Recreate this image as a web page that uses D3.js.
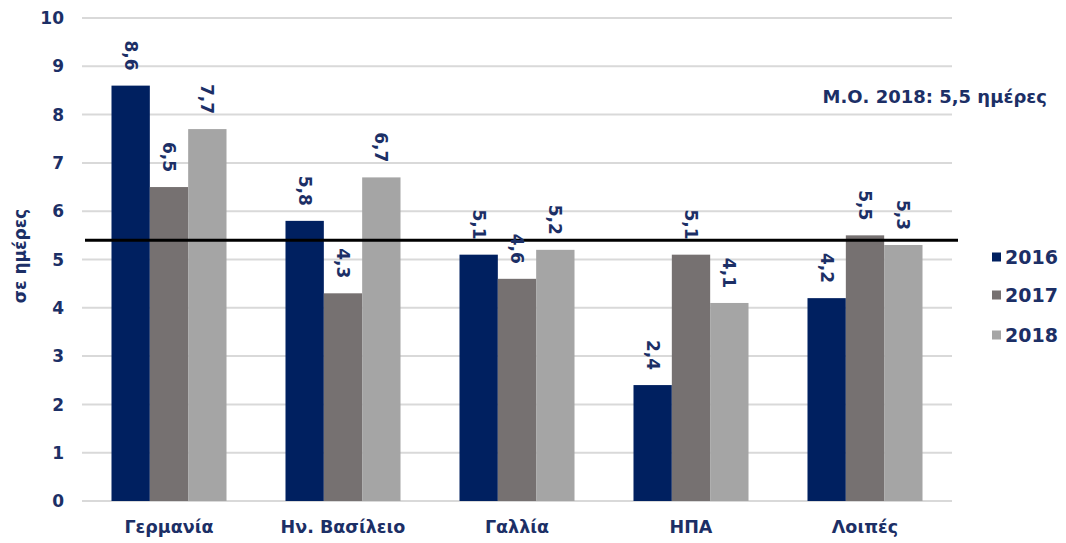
<!DOCTYPE html>
<html>
<head>
<meta charset="utf-8">
<script src="https://cdn.jsdelivr.net/npm/d3@7"></script>
<style>
  html, body { margin: 0; padding: 0; background: #ffffff; }
  svg { display: block; }
</style>
</head>
<body>
<svg id="chart" width="1066" height="543"></svg>
<script>
// ---- data ----
const categories = ["Γερμανία", "Ην. Βασίλειο", "Γαλλία", "ΗΠΑ", "Λοιπές"];
const seriesNames = ["2016", "2017", "2018"];
const values2016 = [8.6, 5.8, 5.1, 2.4, 4.2];
const values2017 = [6.5, 4.3, 4.6, 5.1, 5.5];
const values2018 = [7.7, 6.7, 5.2, 4.1, 5.3];
const yTicks = [0, 1, 2, 3, 4, 5, 6, 7, 8, 9, 10];
const avgLineValue = 5.4;
const avgLabel = "Μ.Ο. 2018: 5,5 ημέρες";
const yTitle = "σε ημέρες";

const seriesValues = [values2016, values2017, values2018];
const colors = ["#002060", "#767171", "#a5a5a5"];
const textColor = "#1c2f66";

const svg = d3.select("#chart");
const font = "'DejaVu Sans', Verdana, sans-serif";

const y = d3.scaleLinear().domain([0, 10]).range([501, 18]);
const x0 = d3.scaleBand().domain(categories).range([82, 952])
  .paddingInner(0.339).paddingOuter(0.1695);
const x1 = d3.scaleBand().domain(seriesNames).range([0, x0.bandwidth()]);

// gridlines
svg.append("g").selectAll("line").data(yTicks).join("line")
  .attr("x1", 82).attr("x2", 952)
  .attr("y1", d => y(d)).attr("y2", d => y(d))
  .attr("stroke", "#d9d9d9").attr("stroke-width", 2);

// y tick labels
svg.append("g").selectAll("text").data(yTicks).join("text")
  .attr("x", 64).attr("y", d => y(d))
  .attr("dy", "0.36em")
  .attr("text-anchor", "end")
  .attr("font-family", font).attr("font-weight", "bold").attr("font-size", 17)
  .attr("fill", textColor)
  .text(d => d);

// y title
svg.append("text")
  .attr("transform", `translate(20,256) rotate(-90)`)
  .attr("dy", "0.35em")
  .attr("text-anchor", "middle")
  .attr("font-family", font).attr("font-weight", "bold").attr("font-size", 17)
  .attr("fill", textColor)
  .text(yTitle);

// bars
const rows = [];
categories.forEach((c, i) => {
  seriesNames.forEach((s, j) => rows.push({ cat: c, s, j, v: seriesValues[j][i] }));
});

svg.append("g").selectAll("rect").data(rows).join("rect")
  .attr("x", d => x0(d.cat) + x1(d.s))
  .attr("y", d => y(d.v))
  .attr("width", x1.bandwidth())
  .attr("height", d => y(0) - y(d.v))
  .attr("fill", d => colors[d.j]);

// average line
svg.append("line")
  .attr("x1", 85).attr("x2", 958)
  .attr("y1", y(avgLineValue)).attr("y2", y(avgLineValue))
  .attr("stroke", "#000").attr("stroke-width", 3);

// bar labels (rotated)
svg.append("g").selectAll("text").data(rows).join("text")
  .attr("transform", d => `translate(${x0(d.cat) + x1(d.s) + x1.bandwidth() / 2},${y(d.v) - 15}) rotate(90)`)
  .attr("dy", "0.36em")
  .attr("text-anchor", "end")
  .attr("font-family", font).attr("font-weight", "bold").attr("font-size", 17)
  .attr("fill", textColor)
  .text(d => d.v.toFixed(1).replace(".", ","));

// category labels
svg.append("g").selectAll("text").data(categories).join("text")
  .attr("x", d => x0(d) + x0.bandwidth() / 2)
  .attr("y", 527)
  .attr("dy", "0.36em")
  .attr("text-anchor", "middle")
  .attr("font-family", font).attr("font-weight", "bold").attr("font-size", 17.5)
  .attr("fill", textColor)
  .text(d => d);

// annotation
svg.append("text")
  .attr("x", 1047).attr("y", 97)
  .attr("dy", "0.36em")
  .attr("text-anchor", "end")
  .attr("font-family", font).attr("font-weight", "bold").attr("font-size", 18)
  .attr("fill", textColor)
  .text(avgLabel);

// legend
const legendY = [257, 295, 335];
const lg = svg.append("g").selectAll("g").data(seriesNames).join("g")
  .attr("transform", (d, i) => `translate(992,${legendY[i]})`);
lg.append("rect").attr("x", 0).attr("y", -4.5).attr("width", 9).attr("height", 9)
  .attr("fill", (d, i) => colors[i]);
lg.append("text").attr("x", 13).attr("y", 0).attr("dy", "0.36em")
  .attr("font-family", font).attr("font-weight", "bold").attr("font-size", 19)
  .attr("fill", textColor)
  .text(d => d);
</script>
</body>
</html>
